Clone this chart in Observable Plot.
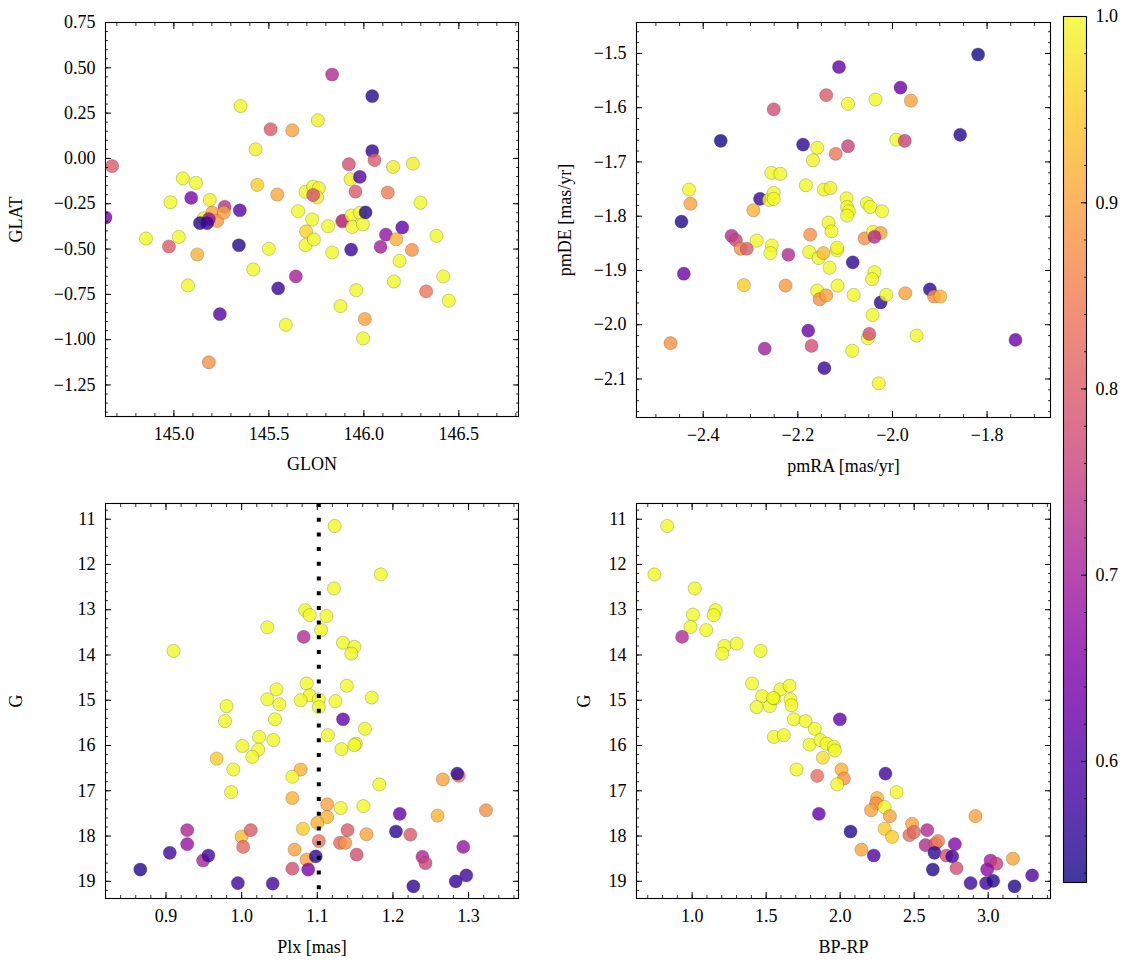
<!DOCTYPE html>
<html><head><meta charset="utf-8">
<script src="https://cdn.jsdelivr.net/npm/d3@7"></script>
<script src="https://cdn.jsdelivr.net/npm/@observablehq/plot@0.6"></script>
<style>
body{margin:0;background:#fff;}
#fig{position:relative;width:1133px;height:965px;background:#fff;}
#fig svg{position:absolute;}
</style></head><body><div id="fig"></div>
<script>
// ---------- data: panel 1 (GLON / GLAT) ----------
const glon = [144.675,144.64,145.833,146.044,145.351,145.509,145.623,145.758,145.430,146.044,146.056,145.921,146.154,146.258,145.930,145.979,145.956,146.126,145.047,145.116,145.439,145.544,144.982,145.091,145.189,145.158,145.202,145.228,145.267,145.263,145.184,145.137,145.175,145.347,145.342,144.853,144.974,145.026,145.123,145.074,145.242,145.184,145.418,145.500,145.549,145.642,145.589,145.654,145.693,145.733,145.763,145.754,145.733,145.728,145.696,145.693,145.737,145.812,145.833,145.886,145.889,145.935,145.939,145.979,145.995,146.009,145.933,145.960,145.877,146.005,145.996,146.088,146.116,146.170,146.202,146.188,146.158,146.253,146.298,146.382,146.328,146.418,146.447];
const glat = [-0.042,-0.326,0.463,0.344,0.289,0.161,0.155,0.210,0.050,0.041,-0.009,-0.032,-0.047,-0.029,-0.115,-0.102,-0.183,-0.188,-0.110,-0.135,-0.146,-0.199,-0.242,-0.218,-0.229,-0.330,-0.299,-0.345,-0.267,-0.299,-0.335,-0.357,-0.357,-0.286,-0.479,-0.442,-0.486,-0.433,-0.530,-0.701,-0.859,-1.125,-0.613,-0.499,-0.717,-0.651,-0.918,-0.291,-0.184,-0.155,-0.164,-0.215,-0.202,-0.337,-0.403,-0.479,-0.447,-0.374,-0.519,-0.348,-0.344,-0.315,-0.378,-0.300,-0.363,-0.298,-0.503,-0.727,-0.815,-0.886,-0.993,-0.488,-0.420,-0.446,-0.381,-0.565,-0.679,-0.505,-0.244,-0.427,-0.734,-0.651,-0.785];
const probPos = [0.80,0.64,0.72,0.55,1.0,0.80,0.90,0.99,0.99,0.56,0.80,0.78,0.99,0.99,0.99,0.60,0.80,0.85,1.0,1.0,0.95,0.91,1.0,0.65,0.99,0.99,0.90,0.89,0.73,0.90,0.68,0.55,0.57,0.61,0.55,1.0,0.80,1.0,0.92,1.0,0.60,0.88,1.0,1.0,0.57,0.70,1.0,1.0,1.0,1.0,0.99,0.99,0.79,1.0,0.96,1.0,1.0,1.0,1.0,0.88,0.72,1.0,1.0,1.0,1.0,0.55,0.57,1.0,1.0,0.90,1.0,0.70,0.68,0.92,0.62,1.0,1.0,0.88,1.0,1.0,0.84,1.0,1.0];

// ---------- data: panel 2 (pmRA / pmDE) ----------
const pmra = [-1.819,-2.113,-1.983,-2.140,-2.094,-2.036,-1.961,-2.251,-2.363,-2.189,-2.159,-2.168,-2.120,-2.094,-1.992,-1.974,-1.857,-2.256,-2.237,-2.183,-2.145,-2.131,-2.430,-2.427,-2.280,-2.261,-2.251,-2.251,-2.294,-2.446,-2.097,-2.096,-2.092,-2.096,-2.054,-2.047,-2.022,-2.135,-2.129,-2.174,-2.340,-2.331,-2.321,-2.308,-2.287,-2.255,-2.258,-2.220,-2.176,-2.156,-2.146,-2.117,-2.117,-2.133,-2.084,-2.059,-2.041,-2.025,-2.038,-2.038,-2.043,-2.314,-2.226,-2.159,-2.154,-2.140,-2.116,-2.082,-2.025,-2.013,-2.042,-1.973,-1.921,-1.912,-1.899,-2.441,-2.469,-2.178,-2.171,-2.270,-2.144,-2.085,-2.052,-2.049,-2.029,-1.949,-1.740];
const pmde = [-1.502,-1.525,-1.563,-1.577,-1.593,-1.585,-1.587,-1.603,-1.661,-1.668,-1.674,-1.697,-1.685,-1.671,-1.659,-1.661,-1.650,-1.720,-1.722,-1.743,-1.751,-1.748,-1.751,-1.777,-1.768,-1.770,-1.757,-1.768,-1.789,-1.810,-1.767,-1.783,-1.791,-1.799,-1.776,-1.783,-1.791,-1.812,-1.828,-1.834,-1.836,-1.844,-1.860,-1.860,-1.845,-1.854,-1.868,-1.871,-1.866,-1.877,-1.868,-1.863,-1.858,-1.895,-1.885,-1.841,-1.829,-1.831,-1.838,-1.903,-1.916,-1.927,-1.928,-1.937,-1.953,-1.946,-1.928,-1.945,-1.959,-1.945,-1.982,-1.942,-1.935,-1.948,-1.948,-1.906,-2.034,-2.011,-2.039,-2.044,-2.080,-2.048,-2.025,-2.017,-2.108,-2.020,-2.028];
const probPM = [0.54,0.62,0.63,0.80,1.0,1.0,0.90,0.78,0.54,0.56,1.0,0.99,0.84,0.76,1.0,0.76,0.55,1.0,1.0,1.0,1.0,0.99,1.0,0.90,0.57,1.0,1.0,1.0,0.92,0.55,1.0,1.0,1.0,1.0,1.0,1.0,1.0,1.0,1.0,0.88,0.72,0.76,0.88,0.80,1.0,1.0,1.0,0.72,1.0,1.0,0.93,1.0,1.0,1.0,0.56,0.88,1.0,0.90,0.72,1.0,1.0,0.95,0.89,1.0,0.88,0.90,1.0,1.0,0.56,1.0,1.0,0.90,0.56,0.88,0.92,0.63,0.88,0.63,0.78,0.70,0.57,1.0,1.0,0.78,1.0,1.0,0.63];

// ---------- data: panel 3 (Plx / G) ----------
const plx = [1.123,1.184,1.122,1.084,1.090,1.112,1.105,1.034,1.082,0.910,1.134,1.149,1.145,1.086,1.139,1.046,1.034,1.050,1.090,1.078,1.102,1.102,1.124,1.172,0.980,0.978,1.044,1.134,1.163,1.114,1.023,1.042,1.001,1.022,1.014,1.151,1.149,1.132,0.967,0.989,1.078,1.067,0.986,1.182,1.067,1.266,1.287,1.285,1.113,1.131,1.113,1.100,1.161,1.209,1.259,1.323,1.081,1.165,1.204,1.223,0.928,0.928,0.905,0.949,0.956,0.866,1.000,1.012,1.002,0.995,1.041,1.070,1.067,1.086,1.098,1.088,1.102,1.130,1.137,1.140,1.152,1.239,1.243,1.293,1.227,1.283,1.297];
const gA = [11.15,12.22,12.53,13.01,13.12,13.14,13.45,13.39,13.60,13.91,13.73,13.82,13.97,14.63,14.68,14.76,14.98,15.09,14.89,15.00,14.98,15.15,15.02,14.94,15.13,15.46,15.42,15.42,15.63,15.77,15.81,15.88,16.01,16.09,16.25,15.96,15.99,16.08,16.29,16.53,16.53,16.69,17.03,16.86,17.16,16.75,16.67,16.62,17.30,17.38,17.58,17.71,17.34,17.51,17.55,17.43,17.84,17.96,17.90,17.97,17.87,18.18,18.37,18.54,18.43,18.74,18.01,17.87,18.24,19.04,19.05,18.30,18.72,18.52,18.45,18.74,18.11,18.15,18.15,17.87,18.41,18.46,18.60,18.24,19.11,19.00,18.87];
const probC = [1.0,1.0,1.0,1.0,1.0,1.0,1.0,1.0,0.72,1.0,1.0,1.0,1.0,1.0,1.0,1.0,1.0,1.0,1.0,1.0,1.0,1.0,1.0,1.0,1.0,1.0,1.0,0.62,1.0,1.0,1.0,1.0,1.0,1.0,1.0,1.0,1.0,1.0,0.95,1.0,0.92,1.0,1.0,1.0,0.92,0.90,0.85,0.56,0.90,1.0,0.92,0.92,1.0,0.62,0.92,0.88,0.95,0.90,0.56,0.80,0.71,0.68,0.58,0.71,0.58,0.55,0.93,0.80,0.82,0.58,0.58,0.90,0.78,0.90,0.56,0.65,0.84,0.82,0.88,0.80,0.78,0.71,0.76,0.68,0.56,0.56,0.58];
const plxLine = [1.102];

// ---------- data: panel 4 (BP-RP / G) ----------
const bprp = [0.831,0.745,1.018,1.005,1.158,1.146,0.989,1.095,0.932,1.218,1.300,1.203,1.462,1.405,1.473,1.435,1.525,1.556,1.597,1.658,1.664,1.671,1.547,1.687,1.766,1.829,1.998,1.552,1.619,1.793,1.867,1.908,1.957,1.964,1.883,1.705,1.845,2.009,2.025,1.980,2.306,2.381,2.250,2.243,2.300,2.209,2.336,2.300,2.351,1.856,2.070,2.144,2.227,2.914,2.486,2.468,2.498,2.588,2.577,2.644,2.662,2.637,2.718,2.757,2.775,2.786,2.626,2.881,2.986,3.034,3.016,3.056,2.993,3.167,3.178,3.297];
const gB = [11.15,12.22,12.53,13.11,13.01,13.12,13.38,13.45,13.60,13.80,13.75,13.97,13.91,14.63,14.91,15.15,15.13,14.96,14.76,14.68,14.98,15.11,14.95,15.42,15.46,15.63,15.42,15.81,15.77,15.98,15.88,15.96,16.03,16.11,16.27,16.53,16.67,16.53,16.73,16.86,16.62,17.03,17.16,17.28,17.36,17.43,17.56,17.84,18.02,17.51,17.90,18.30,18.43,17.56,17.73,17.98,17.91,17.87,18.20,18.17,18.11,18.37,18.43,18.45,18.18,18.71,18.74,19.04,19.04,18.99,18.54,18.61,18.74,18.50,19.11,18.87];
const probD = [1.0,1.0,1.0,1.0,1.0,1.0,1.0,1.0,0.72,1.0,1.0,1.0,1.0,1.0,1.0,1.0,1.0,1.0,1.0,1.0,1.0,1.0,1.0,1.0,1.0,1.0,0.62,1.0,1.0,1.0,1.0,1.0,1.0,1.0,0.97,1.0,0.83,0.92,0.88,1.0,0.58,1.0,0.92,0.87,1.0,0.90,0.90,0.95,0.95,0.62,0.55,0.90,0.60,0.90,0.90,0.83,0.82,0.72,0.72,0.80,0.85,0.56,0.78,0.58,0.66,0.78,0.55,0.58,0.58,0.55,0.70,0.76,0.67,0.90,0.55,0.60];

// ---------- ticks ----------
const glonTicks = [145.0,145.5,146.0,146.5];
const glatTicks = [0.75,0.50,0.25,0.00,-0.25,-0.50,-0.75,-1.00,-1.25];
const pmraTicks = [-2.4,-2.2,-2.0,-1.8];
const pmdeTicks = [-1.5,-1.6,-1.7,-1.8,-1.9,-2.0,-2.1];
const plxTicks = [0.9,1.0,1.1,1.2,1.3];
const gTicks = [11,12,13,14,15,16,17,18,19];
const bprpTicks = [1.0,1.5,2.0,2.5,3.0];
const cbTicks = [0.6,0.7,0.8,0.9,1.0];
const cmin = 0.535, cmax = 1.0;

const FONT = '"Liberation Serif", "DejaVu Serif", serif';
const FS = 18;
const minor = (a, b, s) => d3.range(Math.round((b - a) / s) + 1).map(i => +(a + i * s).toFixed(6));

function axesMarks(o) {
  const m = [Plot.frame({stroke: "black", strokeWidth: 1.1})];
  for (const a of ["bottom", "top"]) {
    m.push(Plot.axisX(o.xMajor, {anchor: a, tickSize: -6, tickFormat: () => "", label: null, strokeWidth: 1}));
    m.push(Plot.axisX(o.xMinor, {anchor: a, tickSize: -3, tickFormat: () => "", label: null, strokeWidth: 0.8}));
  }
  for (const a of ["left", "right"]) {
    m.push(Plot.axisY(o.yMajor, {anchor: a, tickSize: -6, tickFormat: () => "", label: null, strokeWidth: 1}));
    m.push(Plot.axisY(o.yMinor, {anchor: a, tickSize: -3, tickFormat: () => "", label: null, strokeWidth: 0.8}));
  }
  m.push(Plot.axisX(o.xMajor, {anchor: "bottom", tickSize: 0, tickPadding: 11, tickFormat: o.xFmt,
    label: o.xLabel, labelAnchor: "center", labelOffset: o.xLabelOffset, labelArrow: "none", fontSize: FS}));
  m.push(Plot.axisY(o.yMajor, {anchor: "left", tickSize: 0, tickPadding: 10, tickFormat: o.yFmt,
    label: o.yLabel, labelAnchor: "center", labelOffset: o.yLabelOffset, labelArrow: "none", fontSize: FS}));
  return m;
}

function scatter(o) {
  const data = o.xs.map((x, i) => ({x, y: o.ys[i], p: o.ps[i]}));
  const svg = Plot.plot({
    width: o.W, height: o.H,
    marginLeft: o.ml, marginRight: o.mr, marginTop: o.mt, marginBottom: o.mb,
    style: {fontFamily: FONT, fontSize: FS + "px", color: "black", background: "transparent", overflow: "visible"},
    x: {domain: o.xDomain},
    y: {domain: o.yDomain, reverse: !!o.yReverse},
    color: {type: "linear", scheme: "plasma", domain: [cmin, cmax]},
    marks: [
      Plot.dot(data, {x: "x", y: "y", fill: "p", r: 6.6, fillOpacity: 0.8, stroke: "#333", strokeOpacity: 0.5, strokeWidth: 0.5, clip: true}),
      ...(o.extra || []),
      ...axesMarks(o)
    ]
  });
  svg.style.left = o.left + "px";
  svg.style.top = o.top + "px";
  document.getElementById("fig").appendChild(svg);
}

// Panel 1
scatter({xs: glon, ys: glat, ps: probPos, left: 0, top: 0, W: 560, H: 480, ml: 105, mr: 42, mt: 22, mb: 64,
  xDomain: [144.64, 146.814], yDomain: [-1.424, 0.75],
  xMajor: glonTicks, xMinor: minor(144.7, 146.8, 0.1), yMajor: glatTicks, yMinor: minor(-1.4, 0.75, 0.05),
  xFmt: d3.format(".1f"), yFmt: d3.format(".2f"), xLabel: "GLON", yLabel: "GLAT", xLabelOffset: 53, yLabelOffset: 96});

// Panel 2
scatter({xs: pmra, ys: pmde, ps: probPM, left: 560, top: 0, W: 520, H: 480, ml: 76, mr: 30, mt: 22, mb: 63,
  xDomain: [-2.541, -1.666], yDomain: [-2.171, -1.443],
  xMajor: pmraTicks, xMinor: minor(-2.5, -1.7, 0.05), yMajor: pmdeTicks, yMinor: minor(-2.16, -1.46, 0.02),
  xFmt: d3.format(".1f"), yFmt: d3.format(".1f"), xLabel: "pmRA [mas/yr]", yLabel: "pmDE [mas/yr]", xLabelOffset: 54, yLabelOffset: 78});

// Panel 3
scatter({xs: plx, ys: gA, ps: probC, left: 0, top: 480, W: 560, H: 485, ml: 105, mr: 42, mt: 23, mb: 67,
  xDomain: [0.820, 1.366], yDomain: [10.653, 19.38], yReverse: true,
  xMajor: plxTicks, xMinor: minor(0.82, 1.36, 0.02), yMajor: gTicks, yMinor: minor(10.8, 19.2, 0.2),
  xFmt: d3.format(".1f"), yFmt: d3.format("d"), xLabel: "Plx [mas]", yLabel: "G", xLabelOffset: 54, yLabelOffset: 96,
  extra: [Plot.ruleX(plxLine, {stroke: "black", strokeWidth: 4, strokeDasharray: "4,10.7"})]});

// Panel 4
scatter({xs: bprp, ys: gB, ps: probD, left: 560, top: 480, W: 520, H: 485, ml: 76, mr: 30, mt: 23, mb: 67,
  xDomain: [0.624, 3.421], yDomain: [10.653, 19.38], yReverse: true,
  xMajor: bprpTicks, xMinor: minor(0.7, 3.4, 0.1), yMajor: gTicks, yMinor: minor(10.8, 19.2, 0.2),
  xFmt: d3.format(".1f"), yFmt: d3.format("d"), xLabel: "BP-RP", yLabel: "G", xLabelOffset: 54, yLabelOffset: 59});

// Colorbar
{
  const svg = Plot.plot({
    width: 93, height: 965, marginLeft: 23, marginRight: 47, marginTop: 16, marginBottom: 83,
    style: {fontFamily: FONT, fontSize: FS + "px", color: "black", background: "transparent", overflow: "visible"},
    x: {domain: [0, 1], axis: null},
    y: {domain: [cmin, cmax]},
    color: {type: "linear", scheme: "plasma", domain: [cmin, cmax]},
    marks: [
      Plot.raster({fill: (x, y) => y, x1: 0, x2: 1, y1: cmin, y2: cmax, width: 1, height: 600, fillOpacity: 0.8, imageRendering: "auto"}),
      Plot.frame({stroke: "black", strokeWidth: 1.1}),
      Plot.axisY(cbTicks, {anchor: "right", tickSize: -6, tickFormat: () => "", label: null, strokeWidth: 1}),
      Plot.axisY(minor(0.54, 1.0, 0.02), {anchor: "right", tickSize: -3, tickFormat: () => "", label: null, strokeWidth: 0.8}),
      Plot.axisY(cbTicks, {anchor: "right", tickSize: 0, tickPadding: 9, tickFormat: d3.format(".1f"), label: null, fontSize: FS})
    ]
  });
  svg.style.left = "1040px";
  svg.style.top = "0px";
  document.getElementById("fig").appendChild(svg);
}
</script></body></html>
